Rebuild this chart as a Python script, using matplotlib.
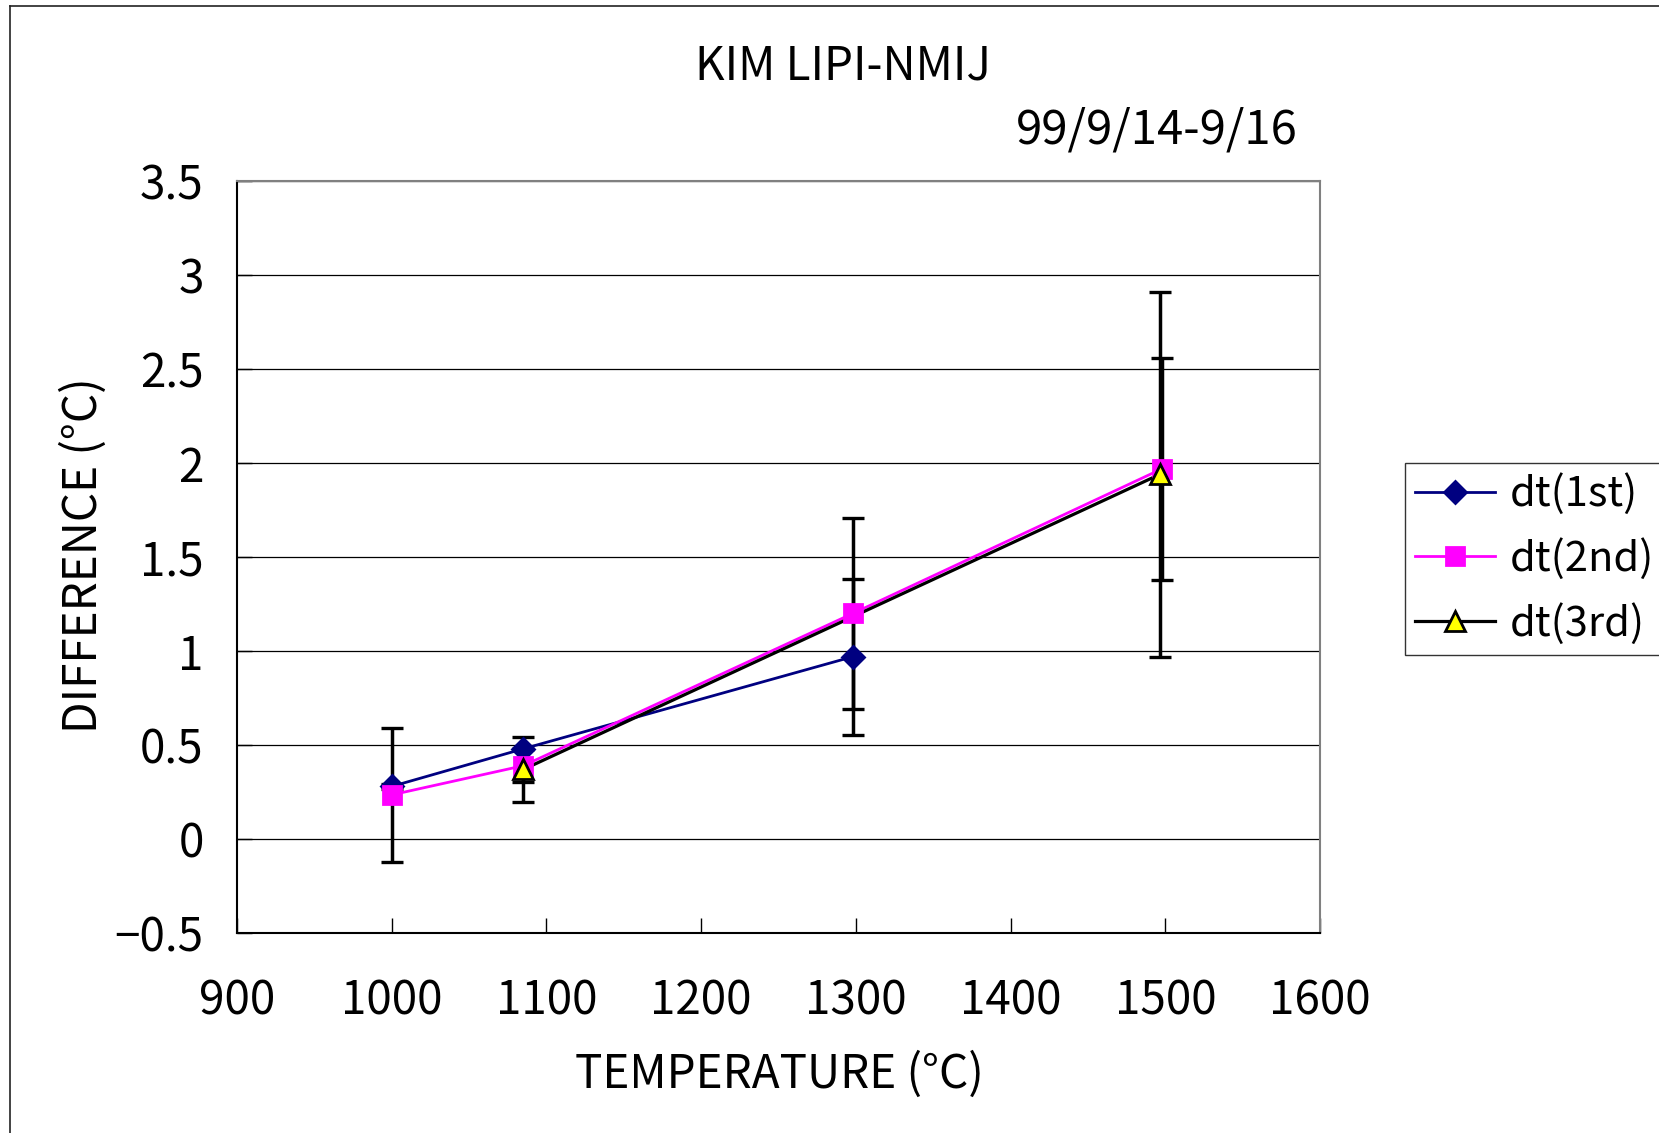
import matplotlib
matplotlib.use('Agg')
import matplotlib.pyplot as plt
from matplotlib.lines import Line2D

plt.rcParams['font.family'] = ['Liberation Sans Narrow', 'Noto Sans CJK JP', 'DejaVu Sans']

# Mesures dt par serie (temperature, ecart, incertitude)
temp_1st = [1000, 1085, 1298]
dt_1st = [0.28, 0.48, 0.97]
err_1st = [0.015, 0.0, 0.415]

temp_2nd = [1000, 1085, 1298, 1498]
dt_2nd = [0.235, 0.39, 1.20, 1.97]
err_2nd = [0.355, 0.087, 0.51, 0.59]

temp_3rd = [1085, 1496.5]
dt_3rd = [0.37, 1.94]
err_3rd = [0.175, 0.97]

series = [
    ('dt(1st)', temp_1st, dt_1st, err_1st, '#000080', 'D', 11, '#000080', '#000080', 2.0),
    ('dt(2nd)', temp_2nd, dt_2nd, err_2nd, '#FF00FF', 's', 13, '#FF00FF', '#FF00FF', 2.0),
    ('dt(3rd)', temp_3rd, dt_3rd, err_3rd, '#000000', '^', 14, '#FFFF00', '#000000', 2.3),
]

fig = plt.figure(figsize=(16.59, 11.33), dpi=100)
ax = fig.add_axes([0.1429, 0.1765, 0.6528, 0.6637])

# barres d'erreur sous les courbes
for label, x, y, e, col, mk, ms, fc, ec, lw in series:
    ax.errorbar(x, y, yerr=e, fmt='none', ecolor='black', elinewidth=2.5,
                capsize=7.9, capthick=2.4, zorder=2)

handles = []
for label, x, y, e, col, mk, ms, fc, ec, lw in series:
    ax.plot(x, y, color=col, linewidth=lw, zorder=3)
for label, x, y, e, col, mk, ms, fc, ec, lw in series:
    ax.plot(x, y, linestyle='none', marker=mk, markersize=ms,
            markerfacecolor=fc, markeredgecolor=ec, markeredgewidth=2.0, zorder=4)
    handles.append(Line2D([], [], color=col, linewidth=lw, marker=mk, markersize=ms,
                          markerfacecolor=fc, markeredgecolor=ec, markeredgewidth=2.0,
                          label=label))

ax.set_xlim(900, 1600)
ax.set_ylim(-0.5, 3.5)
ax.set_xticks(range(900, 1601, 100))
ax.set_yticks([-0.5, 0, 0.5, 1, 1.5, 2, 2.5, 3, 3.5])
ax.set_yticklabels(['\u22120.5', '0', '0.5', '1', '1.5', '2', '2.5', '3', '3.5'])
ax.yaxis.grid(True, color='black', linewidth=0.9)
ax.set_axisbelow(True)
ax.tick_params(axis='both', direction='in', labelsize=33, width=1.0, length=11)
ax.tick_params(axis='x', pad=32)
ax.tick_params(axis='y', pad=24)
for s in ['left', 'bottom']:
    ax.spines[s].set_color('black')
    ax.spines[s].set_linewidth(1.5)
for s in ['top', 'right']:
    ax.spines[s].set_color('#808080')
    ax.spines[s].set_linewidth(1.5)

ax.set_xlabel('TEMPERATURE (°C)', fontsize=33, va='center')
ax.xaxis.set_label_coords(0.5005, -0.1888)
ax.set_ylabel('DIFFERENCE (°C)', fontsize=33, va='center')
ax.yaxis.set_label_coords(-0.1413, 0.503)

fig.text(843 / 1659, 1 - 66 / 1133, 'KIM LIPI-NMIJ', fontsize=33, ha='center', va='center')
fig.text(1298 / 1659, 1 - 130 / 1133, '99/9/14-9/16', fontsize=34, ha='right', va='center')

leg = fig.legend(handles=handles, loc='upper left', bbox_to_anchor=(1405 / 1659, 1 - 463 / 1133),
                 fontsize=30, frameon=True, fancybox=False, borderpad=0.25, labelspacing=0.55,
                 handlelength=1.9, handletextpad=0.36, borderaxespad=0)
leg.get_frame().set_edgecolor('black')
leg.get_frame().set_linewidth(1.0)

# cadre de la zone graphique
fig.add_artist(Line2D([10 / 1659, 10 / 1659], [0, 1 - 6 / 1133], color='#222222', linewidth=1.2))
fig.add_artist(Line2D([10 / 1659, 1], [1 - 6 / 1133, 1 - 6 / 1133], color='#222222', linewidth=1.2))

plt.savefig('out.png', dpi=100)
